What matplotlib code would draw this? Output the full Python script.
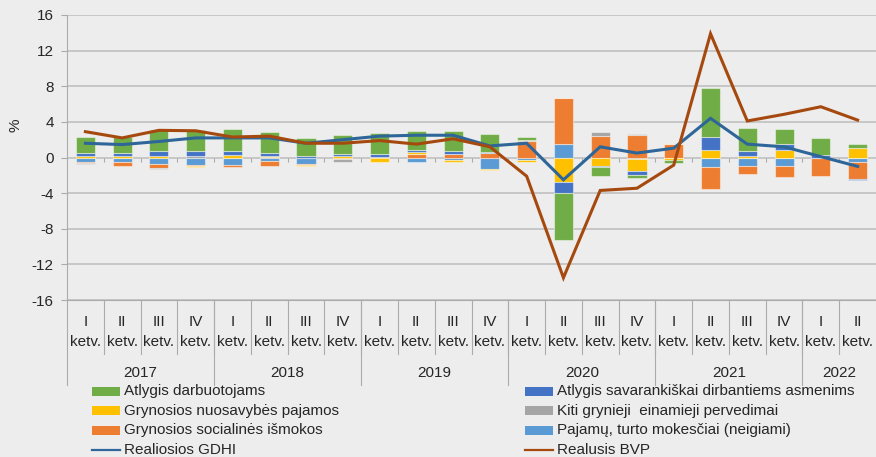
import matplotlib
matplotlib.use("Agg")
import matplotlib.pyplot as plt
import numpy as np
from matplotlib.transforms import blended_transform_factory
from matplotlib.lines import Line2D
from matplotlib.patches import Rectangle

plt.rcParams['font.family'] = ['Liberation Sans', 'DejaVu Sans']

quarters = ["I", "II", "III", "IV"] * 5 + ["I", "II"]
years = ["2017", "2018", "2019", "2020", "2021", "2022"]
year_counts = [4, 4, 4, 4, 4, 2]

green = [1.75, 1.87, 2.3, 2.35, 2.5, 2.4, 2.0, 2.15, 2.4, 2.1, 2.2, 2.0,
         0.25, -5.25, -0.95, -0.3, -0.4, 5.6, 2.6, 1.75, 1.85, 0.5]
darkblue = [0.3, 0.26, 0.6, 0.55, 0.5, 0.3, 0.15, 0.2, 0.3, 0.22, 0.37, 0.22,
            0.0, -1.2, -0.1, -0.5, 0.0, 1.4, 0.5, 0.65, 0.3, -0.1]
yellow = [0.2, 0.22, 0.15, -0.12, 0.25, 0.1, -0.1, 0.15, -0.45, 0.2, -0.15, -0.15,
          -0.2, -2.8, -0.9, -1.35, -0.15, 0.85, 0.2, 0.85, 0.0, 1.05]
gray = [-0.05, 0.0, -0.07, 0.2, 0.0, 0.05, 0.0, -0.3, 0.0, 0.0, 0.0, 0.0,
        0.2, 0.08, 0.45, 0.08, -0.05, 0.0, 0.0, 0.0, 0.0, 0.0]
orange = [-0.1, -0.4, -0.45, -0.05, -0.25, -0.5, -0.1, -0.1, 0.1, 0.4, 0.35, 0.45,
          1.8, 5.1, 2.45, 2.55, 1.5, -2.5, -0.95, -1.27, -2.0, -1.95]
lightblue = [-0.55, -0.55, -0.75, -0.85, -0.8, -0.4, -0.7, -0.05, -0.05, -0.5, -0.3, -1.3,
             -0.3, 1.55, -0.1, -0.15, -0.05, -1.07, -0.95, -0.9, -0.05, -0.45]
gdhi = [1.6, 1.45, 1.8, 2.2, 2.2, 2.2, 1.6, 2.0, 2.4, 2.5, 2.5, 1.3,
        1.6, -2.5, 1.2, 0.5, 1.05, 4.4, 1.5, 1.2, 0.1, -1.0]
bvp = [2.9, 2.2, 3.05, 3.0, 2.3, 2.4, 1.6, 1.6, 1.9, 1.5, 2.1, 1.2,
       -2.1, -13.5, -3.7, -3.45, -0.85, 13.9, 4.1, 4.85, 5.7, 4.2]

labels = ["Atlygis darbuotojams", "Atlygis savarankiškai dirbantiems asmenims",
          "Grynosios nuosavybės pajamos", "Kiti grynieji  einamieji pervedimai",
          "Grynosios socialinės išmokos", "Pajamų, turto mokesčiai (neigiami)",
          "Realiosios GDHI", "Realusis BVP"]

C_GREEN = "#70AD47"
C_DBLUE = "#4472C4"
C_YELLOW = "#FFC000"
C_GRAY = "#A5A5A5"
C_ORANGE = "#ED7D31"
C_LBLUE = "#5B9BD5"
C_GDHI = "#2E6699"
C_BVP = "#A5490F"
BG = "#EDEDED"
TXT = "#262626"
SEP = "#ABABAB"

W, H = 876, 457
fig = plt.figure(figsize=(W / 100, H / 100), dpi=100, facecolor=BG)
ax = fig.add_axes([67 / W, (H - 300) / H, (876 - 67) / W, 285 / H])
ax.set_facecolor(BG)

n = len(green)
x = np.arange(n)

# stacking order (bottom-up from zero)
series = [(lightblue, C_LBLUE), (orange, C_ORANGE), (gray, C_GRAY),
          (yellow, C_YELLOW), (darkblue, C_DBLUE), (green, C_GREEN)]
pos = np.zeros(n)
neg = np.zeros(n)
for vals, col in series:
    v = np.array(vals, dtype=float)
    bottoms = np.where(v >= 0, pos, neg)
    ax.bar(x, v, 0.52, bottom=bottoms, color=col, edgecolor=(1, 1, 1, 0.45),
           linewidth=0.8, zorder=3)
    pos = pos + np.where(v >= 0, v, 0)
    neg = neg + np.where(v < 0, v, 0)

ax.plot(x, gdhi, color=C_GDHI, lw=2.2, zorder=4, solid_joinstyle='miter')
ax.plot(x, bvp, color=C_BVP, lw=2.2, zorder=5, solid_joinstyle='miter')

ax.set_xlim(-0.5, 21.5)
ax.set_ylim(-16, 16)
ax.set_yticks(np.arange(-16, 17, 4))
ax.set_yticklabels([str(v) for v in range(-16, 17, 4)], fontsize=11, color=TXT)
ax.tick_params(axis='y', length=4.5, width=0.8, color=SEP, pad=5)
ax.set_xticks([])
ax.grid(axis='y', color="#BCBCBC", lw=1.1, zorder=0)
ax.set_axisbelow(True)
for s in ['top', 'right']:
    ax.spines[s].set_visible(False)
ax.spines['left'].set_color(SEP)
ax.spines['bottom'].set_color(SEP)
ax.spines['left'].set_linewidth(0.8)
ax.spines['bottom'].set_linewidth(0.8)

# small ticks along zero line
ax.vlines(np.arange(n - 1) + 0.5, -0.55, 0, color=SEP, lw=0.8, zorder=2)

fig.text(15 / W, 1 - 125 / H, "%", rotation=90, fontsize=11, color=TXT,
         ha='center', va='center')

# multi-level category axis
tr = blended_transform_factory(ax.transData, fig.transFigure)
def fy(px):
    return 1 - px / H

for i, q in enumerate(quarters):
    ax.text(i, fy(322), q, transform=tr, ha='center', va='center', fontsize=11, color=TXT)
    ax.text(i, fy(342), "ketv.", transform=tr, ha='center', va='center', fontsize=11, color=TXT)

for i in range(n - 1):
    ax.add_line(Line2D([i + 0.5, i + 0.5], [fy(300), fy(354)], transform=tr,
                       color=SEP, lw=0.8, clip_on=False))
start = 0
bounds = [-0.5]
for yr, cnt in zip(years, year_counts):
    center = start + (cnt - 1) / 2
    ax.text(center, fy(373), yr, transform=tr, ha='center', va='center', fontsize=11, color=TXT)
    start += cnt
    bounds.append(start - 0.5)
for b in bounds[:-1]:
    ax.add_line(Line2D([b, b], [fy(300), fy(385)], transform=tr,
                       color=SEP, lw=0.8, clip_on=False))

# legend (manual, two columns)
cols_x = [(92, 124), (525, 557)]
rows_y = [391.5, 410.5, 430, 449.5]
items = [
    (0, 0, 'patch', C_GREEN, labels[0]),
    (1, 0, 'patch', C_DBLUE, labels[1]),
    (0, 1, 'patch', C_YELLOW, labels[2]),
    (1, 1, 'patch', C_GRAY, labels[3]),
    (0, 2, 'patch', C_ORANGE, labels[4]),
    (1, 2, 'patch', C_LBLUE, labels[5]),
    (0, 3, 'line', C_GDHI, labels[6]),
    (1, 3, 'line', C_BVP, labels[7]),
]
for c, r, kind, col, lab in items:
    px0, tx = cols_x[c]
    yc = rows_y[r]
    if kind == 'patch':
        fig.patches.append(Rectangle((px0 / W, fy(yc + 4.5)), 28 / W, 9 / H,
                                     transform=fig.transFigure, facecolor=col,
                                     edgecolor='none'))
    else:
        fig.add_artist(Line2D([px0 / W, (px0 + 28) / W], [fy(yc), fy(yc)],
                              transform=fig.transFigure, color=col, lw=1.6))
    fig.text(tx / W, fy(yc), lab, ha='left', va='center', fontsize=11, color=TXT)

fig.savefig("out.png", dpi=100, facecolor=BG)
